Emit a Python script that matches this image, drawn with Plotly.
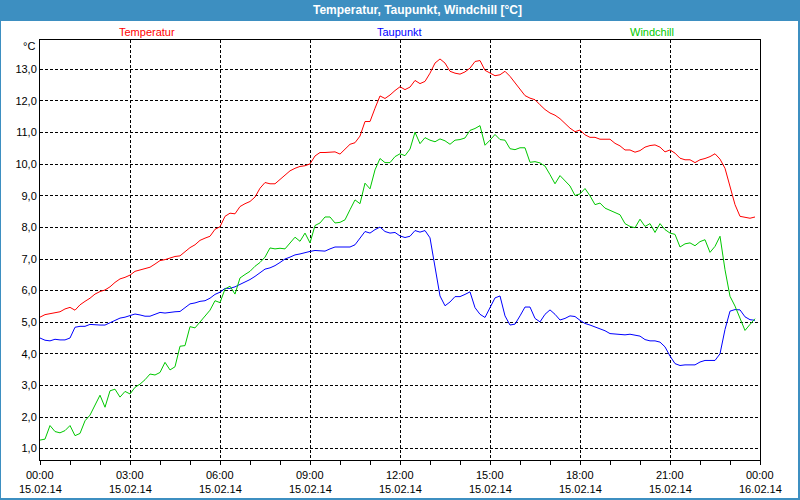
import pandas as pd
import plotly.graph_objects as go

# 10-minute readings, 15.02.14 00:00 .. 23:50
times = pd.date_range("2014-02-15 00:00", periods=144, freq="10min")

temperatur = [
    5.16, 5.24, 5.27, 5.29, 5.33, 5.42,
    5.47, 5.38, 5.55, 5.66, 5.76, 5.89,
    5.97, 6.02, 6.12, 6.26, 6.37, 6.42,
    6.49, 6.61, 6.65, 6.70, 6.74, 6.84,
    6.95, 6.98, 7.03, 7.08, 7.10, 7.23,
    7.36, 7.45, 7.59, 7.66, 7.72, 7.94,
    8.02, 8.35, 8.45, 8.43, 8.66, 8.75,
    8.82, 8.96, 9.24, 9.42, 9.38, 9.38,
    9.51, 9.64, 9.79, 9.87, 9.93, 9.95,
    10.01, 10.26, 10.37, 10.37, 10.39, 10.39,
    10.32, 10.49, 10.63, 10.68, 10.89, 11.35,
    11.35, 11.77, 12.16, 12.08, 12.19, 12.33,
    12.45, 12.36, 12.44, 12.65, 12.55, 12.62,
    12.88, 13.20, 13.33, 13.20, 12.94, 12.88,
    12.85, 12.92, 13.04, 13.25, 13.28, 12.97,
    12.88, 12.80, 12.83, 12.94, 12.78, 12.57,
    12.38, 12.17, 12.09, 12.04, 11.88, 11.73,
    11.62, 11.55, 11.44, 11.28, 11.14, 11.03,
    11.08, 10.93, 10.85, 10.85, 10.79, 10.79,
    10.79, 10.66, 10.58, 10.45, 10.45, 10.38,
    10.43, 10.54, 10.59, 10.61, 10.54, 10.39,
    10.45, 10.35, 10.19, 10.14, 10.14, 10.05,
    10.14, 10.18, 10.24, 10.33, 10.16, 9.87,
    9.29, 8.72, 8.35, 8.33, 8.29, 8.33,
]

taupunkt = [
    4.50, 4.43, 4.41, 4.46, 4.44, 4.44,
    4.50, 4.84, 4.87, 4.87, 4.93, 4.91,
    4.91, 4.91, 4.98, 5.05, 5.13, 5.16,
    5.21, 5.26, 5.23, 5.19, 5.19, 5.26,
    5.31, 5.29, 5.32, 5.33, 5.34, 5.45,
    5.58, 5.61, 5.66, 5.68, 5.76, 5.88,
    5.95, 6.07, 6.07, 6.12, 6.19, 6.26,
    6.35, 6.45, 6.58, 6.68, 6.72, 6.79,
    6.89, 7.00, 7.06, 7.13, 7.16, 7.21,
    7.24, 7.27, 7.27, 7.25, 7.32, 7.38,
    7.38, 7.38, 7.38, 7.45, 7.66, 7.87,
    7.82, 7.93, 8.01, 7.87, 7.82, 7.84,
    7.73, 7.68, 7.72, 7.90, 7.85, 7.90,
    7.67, 6.78, 5.83, 5.52, 5.64, 5.81,
    5.81, 5.88, 5.96, 5.46, 5.25, 5.15,
    5.46, 5.77, 5.83, 5.20, 4.91, 4.94,
    5.20, 5.48, 5.48, 5.12, 5.01, 5.25,
    5.39, 5.25, 5.07, 5.12, 5.20, 5.18,
    5.06, 4.96, 4.91, 4.85, 4.77, 4.73,
    4.64, 4.62, 4.60, 4.60, 4.62, 4.60,
    4.56, 4.45, 4.41, 4.41, 4.37, 4.22,
    3.93, 3.69, 3.63, 3.65, 3.65, 3.65,
    3.74, 3.79, 3.79, 3.79, 4.00, 4.77,
    5.35, 5.40, 5.39, 5.17, 5.08, 5.06,
]

windchill = [
    1.27, 1.30, 1.73, 1.54, 1.50, 1.57,
    1.73, 1.41, 1.48, 1.88, 2.06, 2.36,
    2.69, 2.31, 2.83, 2.88, 2.63, 2.81,
    2.73, 2.94, 3.04, 3.18, 3.36, 3.33,
    3.41, 3.73, 3.49, 3.59, 4.24, 4.26,
    4.86, 4.82, 5.00, 5.21, 5.38, 5.68,
    5.62, 6.05, 6.14, 5.89, 6.40, 6.51,
    6.61, 6.77, 6.89, 7.06, 7.35, 7.32,
    7.34, 7.32, 7.51, 7.69, 7.56, 7.82,
    7.51, 8.06, 8.14, 8.33, 8.33, 8.14,
    8.16, 8.24, 8.56, 8.87, 8.75, 9.40,
    9.22, 9.82, 10.18, 10.05, 10.05, 10.24,
    10.33, 10.27, 10.48, 11.01, 10.65, 10.84,
    10.76, 10.71, 10.80, 10.74, 10.63, 10.76,
    10.78, 10.83, 11.07, 11.13, 11.22, 10.60,
    10.76, 10.94, 10.78, 10.76, 10.49, 10.46,
    10.52, 10.52, 10.06, 10.08, 10.04, 9.94,
    9.67, 9.38, 9.64, 9.46, 9.31, 9.01,
    9.06, 9.23, 9.00, 8.72, 8.77, 8.61,
    8.54, 8.47, 8.40, 8.12, 8.03, 7.99,
    8.26, 8.03, 8.12, 7.84, 8.12, 7.93,
    7.82, 7.78, 7.38, 7.48, 7.51, 7.42,
    7.55, 7.61, 7.21, 7.40, 7.72, 6.66,
    5.82, 5.51, 5.11, 4.74, 4.93, 5.11,
]

series_names = ["Temperatur", "Taupunkt", "Windchill"]
series_colors = ["#ff0000", "#0000ff", "#00c800"]
chart_title = "Temperatur, Taupunkt, Windchill [°C]"
unit_label = "°C"
x_range = ["2014-02-15 00:00", "2014-02-16 00:00"]
# x tick labels (every 3 h): time line and date line
x_tick_times = pd.date_range("2014-02-15 00:00", "2014-02-16 00:00", freq="3h")
x_tick_time_text = [t.strftime("%H:%M") for t in x_tick_times]
x_tick_date_text = [t.strftime("%d.%m.%y") for t in x_tick_times]

W, H = 800, 500
ML, MR, MT, MB = 40, 40, 40, 40
PW, PH = W - ML - MR, H - MT - MB


def px_x(px):
    return (px - ML) / PW


def px_y(py):
    return (H - MB - py) / PH


fig = go.Figure()
for name, vals, col in zip(series_names, [temperatur, taupunkt, windchill], series_colors):
    fig.add_trace(go.Scatter(x=times, y=vals, mode="lines", name=name,
                             line=dict(color=col, width=1), showlegend=False,
                             hoverinfo="skip"))

font_family = "Liberation Sans, Arial, sans-serif"
blue = "#3d8fc1"
tick_font = dict(family=font_family, size=11, color="#000000")

fig.update_layout(
    width=W, height=H,
    margin=dict(l=ML, r=MR, t=MT, b=MB, pad=0, autoexpand=False),
    paper_bgcolor=blue,
    plot_bgcolor="#ffffff",
    separators=",.",
    font=dict(family=font_family, size=11, color="#000000"),
    showlegend=False,
    hovermode=False,
    xaxis=dict(
        type="date", range=x_range,
        tick0="2014-02-15 00:00", dtick=3 * 3600000,
        showticklabels=False,
        showline=True, linecolor="#000000", linewidth=1, mirror=True,
        showgrid=True, gridcolor="#000000", gridwidth=1, griddash="3px,2px",
        ticks="outside", ticklen=4, tickcolor="#000000", tickwidth=1,
        automargin=False,
        minor=dict(dtick=3600000, ticks="outside", ticklen=4, tickcolor="#000000",
                   tickwidth=1, showgrid=False),
        zeroline=False, fixedrange=True,
    ),
    yaxis=dict(
        range=[0.64, 13.93],
        tick0=1, dtick=1, tickformat=".1f",
        showline=True, linecolor="#000000", linewidth=1, mirror=True,
        showgrid=True, gridcolor="#000000", gridwidth=1, griddash="3px,2px",
        ticks="", zeroline=False, automargin=False,
        tickfont=tick_font, fixedrange=True,
    ),
    shapes=[
        dict(type="rect", xref="paper", yref="paper", layer="below",
             x0=px_x(1), x1=px_x(798), y0=px_y(498), y1=px_y(21),
             fillcolor="#ffffff", line=dict(width=0)),
    ],
)

annotations = [
    dict(text="<b>" + chart_title + "</b>", x=px_x(417), y=px_y(10),
         xref="paper", font=dict(family=font_family, size=12, color="#ffffff")),
    dict(text=unit_label, x=px_x(37), y=px_y(46), xanchor="right",
         xref="paper", font=dict(family=font_family, size=11, color="#000000")),
]
for name, col, cx in zip(series_names, series_colors, [147, 399, 652]):
    annotations.append(dict(text=name, x=px_x(cx), y=px_y(32), xref="paper",
                            font=dict(family=font_family, size=11, color=col)))
for t, tt, dt in zip(x_tick_times, x_tick_time_text, x_tick_date_text):
    annotations.append(dict(text=tt, x=t, xref="x", y=px_y(475), font=tick_font))
    annotations.append(dict(text=dt, x=t, xref="x", y=px_y(489), font=tick_font))
for a in annotations:
    a.update(yref="paper", showarrow=False)
    a.setdefault("xanchor", "center")
    a.setdefault("yanchor", "middle")
fig.update_layout(annotations=annotations)

fig.write_html(
    "out.html",
    config={"displayModeBar": False, "staticPlot": True},
    post_script="document.body.style.margin='0';document.body.style.padding='0';"
                "document.body.style.overflow='hidden';",
)
